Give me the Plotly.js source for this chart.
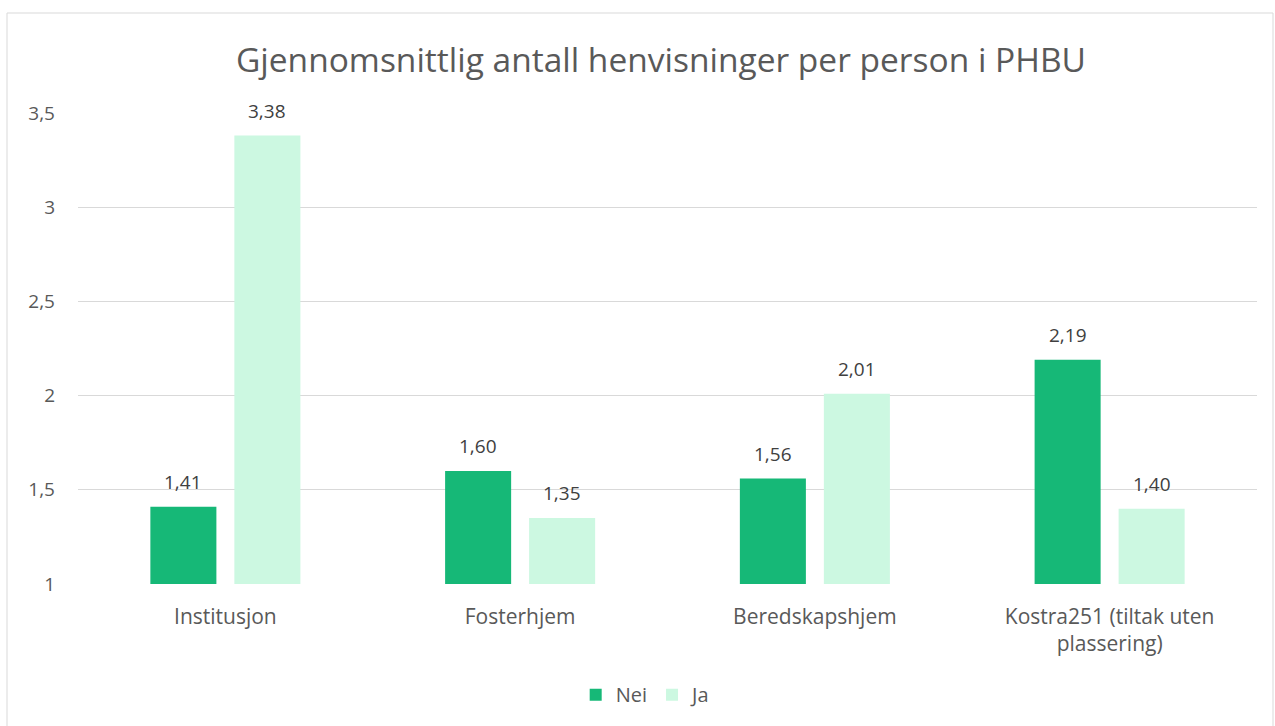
<!DOCTYPE html>
<html>
<head>
<meta charset="utf-8">
<script src="https://cdn.plot.ly/plotly-3.0.1.min.js"></script>
<style>html,body{margin:0;padding:0;background:#fff;}#chart{width:1275px;height:726px;}</style>
</head>
<body>
<div id="chart"></div>
<script>
const categories = ["Institusjon", "Fosterhjem", "Beredskapshjem", "Kostra251 (tiltak uten<br>plassering)"];
const neiValues = [1.41, 1.60, 1.56, 2.19];
const jaValues = [3.38, 1.35, 2.01, 1.40];
const yTickVals = [1, 1.5, 2, 2.5, 3, 3.5];
const yTickText = ["1", "1,5", "2", "2,5", "3", "3,5"];

const FONT = "'Open Sans', sans-serif";
const GREY = "#595959";
const fmt = v => v.toFixed(2).replace(".", ",");

const traces = [
  {type: "bar", name: "Nei", x: categories, y: neiValues, marker: {color: "#16b877"}, hoverinfo: "none"},
  {type: "bar", name: "Ja", x: categories, y: jaValues, marker: {color: "#ccf8e1"}, hoverinfo: "none"}
];

const annotations = [];
[[neiValues, -42], [jaValues, 42]].forEach(([vals, dx]) => {
  vals.forEach((v, i) => {
    annotations.push({x: categories[i], y: v, xref: "x", yref: "y", text: fmt(v), showarrow: false,
      xshift: dx, yshift: 25, yanchor: "middle", font: {family: FONT, size: 19, color: "#404040"}});
  });
});

const W = 1179, H = 471;
const layout = {
  width: 1275, height: 726,
  margin: {l: 78, r: 18, t: 113, b: 142},
  paper_bgcolor: "#fff", plot_bgcolor: "#fff",
  separators: ", ",
  font: {family: FONT, size: 19, color: GREY},
  title: {text: "Gjennomsnittlig antall henvisninger per person i PHBU", x: 0.4945, xref: "paper", xanchor: "center", y: 0.917, yanchor: "middle",
          font: {family: FONT, size: 33.5, color: GREY}},
  barmode: "group", bargap: 0.43, bargroupgap: 0.214,
  xaxis: {showgrid: false, showline: false, ticks: "", ticklabelstandoff: 18, tickfont: {size: 21, color: GREY}, fixedrange: true},
  yaxis: {range: [1, 3.5], tickvals: yTickVals, ticktext: yTickText, showgrid: true, gridcolor: "#d9d9d9", gridwidth: 1,
          zeroline: false, showline: false, ticks: "", ticklabelstandoff: 22, tickfont: {size: 19, color: GREY}, fixedrange: true},
  legend: {orientation: "h", x: 0.4815, xanchor: "center", y: -0.235, yanchor: "middle", font: {size: 20, color: GREY},
           itemwidth: 30, traceorder: "normal"},
  showlegend: true,
  annotations: annotations,
  shapes: [{type: "rect", xref: "paper", yref: "paper",
            x0: (7 - 78) / W, x1: (1273 - 78) / W, y0: (584 - 730) / H, y1: (584 - 13) / H,
            line: {color: "#d9d9d9", width: 1}, fillcolor: "rgba(0,0,0,0)", layer: "below"}]
};

Plotly.newPlot("chart", traces, layout, {displayModeBar: false, staticPlot: true});
</script>
</body>
</html>
